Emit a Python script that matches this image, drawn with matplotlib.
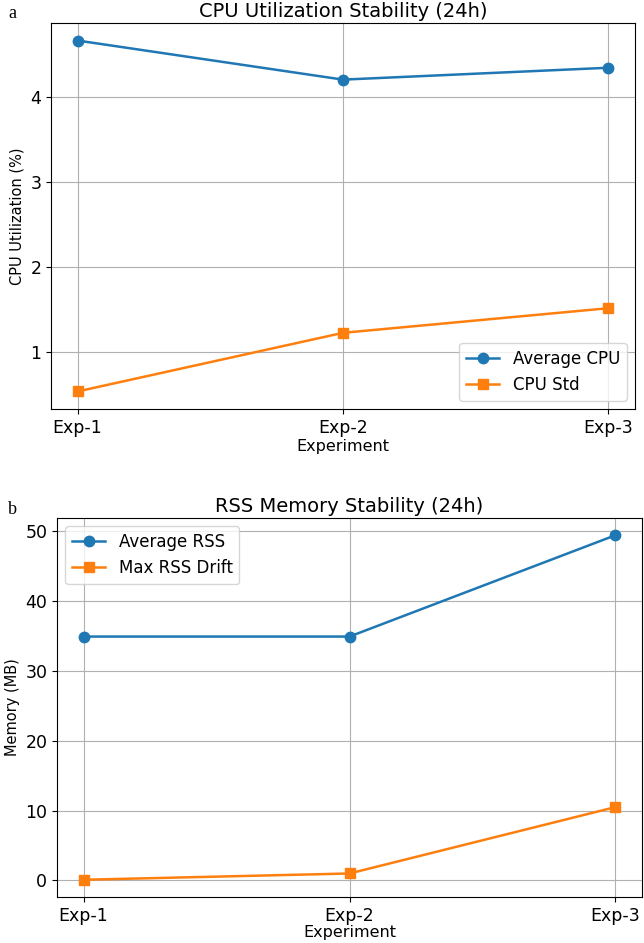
import matplotlib
matplotlib.use("Agg")
import matplotlib.pyplot as plt

experiments = ["Exp-1", "Exp-2", "Exp-3"]

# CPU panel (a)
cpu_avg = [4.67, 4.21, 4.35]
cpu_std = [0.54, 1.23, 1.52]

# memory panel (b)
rss_avg = [34.9, 34.9, 49.4]
rss_drift = [0.1, 1.0, 10.5]

plt.rcParams["font.size"] = 12
plt.rcParams["xtick.labelsize"] = 12.5
plt.rcParams["ytick.labelsize"] = 12.5
plt.rcParams["axes.labelsize"] = 11.5
plt.rcParams["axes.titlesize"] = 14
plt.rcParams["lines.linewidth"] = 1.8
plt.rcParams["lines.markersize"] = 7.5

W, H = 644, 943
fig = plt.figure(figsize=(W / 100, H / 100), dpi=100)


def box(x0, y0, x1, y1):
    # pixel box -> figure fraction
    return [x0 / W, 1 - y1 / H, (x1 - x0) / W, (y1 - y0) / H]


ax1 = fig.add_axes(box(51, 23, 635, 409))
ax1.plot(experiments, cpu_avg, marker="o", label="Average CPU")
ax1.plot(experiments, cpu_std, marker="s", label="CPU Std")
ax1.set_title("CPU Utilization Stability (24h)", pad=4)
ax1.set_xlabel("Experiment", labelpad=2)
ax1.set_ylabel("CPU Utilization (%)", fontsize=10.5)
ax1.grid(True)
ax1.legend(loc="lower right")

ax2 = fig.add_axes(box(57, 518, 642, 897))
ax2.plot(experiments, rss_avg, marker="o", label="Average RSS")
ax2.plot(experiments, rss_drift, marker="s", label="Max RSS Drift")
ax2.set_title("RSS Memory Stability (24h)", pad=4)
ax2.set_xlabel("Experiment", labelpad=0)
ax2.set_ylabel("Memory (MB)", fontsize=10.5)
ax2.grid(True)
ax2.legend(loc="upper left")

fig.text(8 / W, 1 - 13 / H, "a", family="Liberation Serif", fontsize=13, va="center")
fig.text(8 / W, 1 - 509 / H, "b", family="Liberation Serif", fontsize=13, va="center")

fig.savefig("out.png", dpi=100)
